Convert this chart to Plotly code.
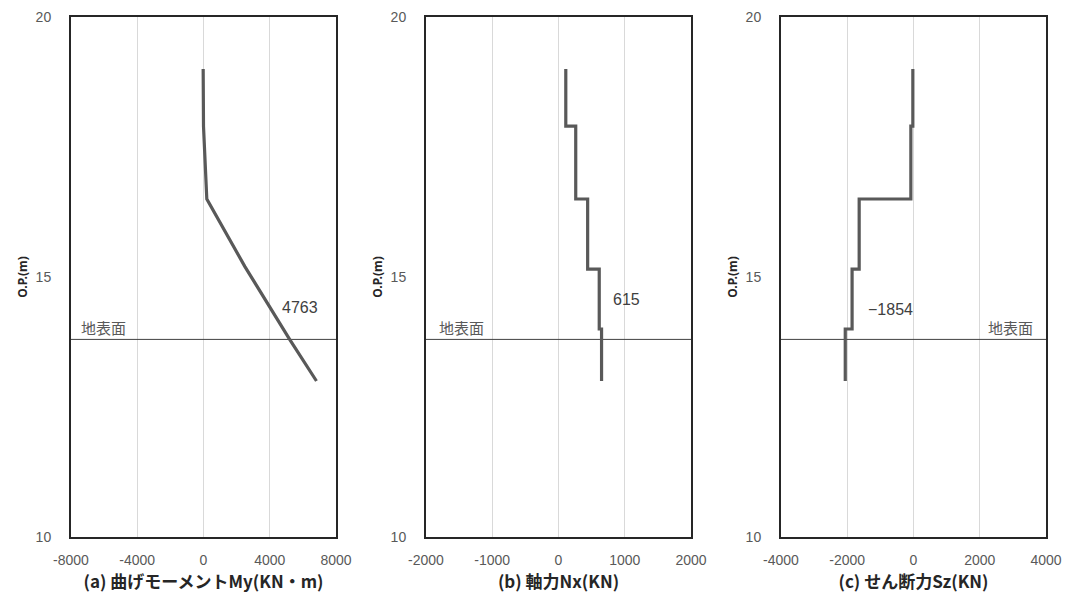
import plotly.graph_objects as go

# ---- data ----
# (a) bending moment My (kN·m) vs elevation O.P.(m)
my_x = [-20, 0, 200, 2500, 5200, 6820]
my_y = [19.0, 17.9, 16.5, 15.2, 13.8, 13.0]

# (b) axial force Nx (kN), stepped profile
nx_x = [110, 110, 260, 260, 440, 440, 615, 615, 650, 650]
nx_y = [19.0, 17.9, 17.9, 16.5, 16.5, 15.15, 15.15, 14.0, 14.0, 13.0]

# (c) shear force Sz (kN), stepped profile
sz_x = [-20, -20, -80, -80, -1640, -1640, -1854, -1854, -2060, -2060]
sz_y = [19.0, 17.9, 17.9, 16.5, 16.5, 15.15, 15.15, 14.0, 14.0, 13.0]

ground_level = 13.8
x_titles = ["(a) 曲げモーメントMy(KN・m)", "(b) 軸力Nx(KN)", "(c) せん断力Sz(KN)"]
x_ranges = [[-8000, 8000], [-2000, 2000], [-4000, 4000]]
x_tickvals = [[-8000, -4000, 0, 4000, 8000],
              [-2000, -1000, 0, 1000, 2000],
              [-4000, -2000, 0, 2000, 4000]]
x_ticktext = [["-8000", "-4000", "0", "4000", "8000"],
              ["-2000", "-1000", "0", "1000", "2000"],
              ["-4000", "-2000", "0", "2000", "4000"]]
y_range = [10, 20]
y_tickvals = [10, 15, 20]
peak_labels = ["4763", "615", "−1854"]
peak_pos = [(5840, 14.42), (1020, 14.56), (-700, 14.38)]
ground_label_pos = [(-6050, 14.03), (-1460, 14.03), (2940, 14.03)]

W, H = 1074, 601
panel_px = [(71, 336), (426, 691), (781, 1046)]
LINE = "#595959"

fig = go.Figure()
series = [(my_x, my_y), (nx_x, nx_y), (sz_x, sz_y)]
for i, (xs, ys) in enumerate(series):
    xa = "x" if i == 0 else f"x{i+1}"
    ya = "y" if i == 0 else f"y{i+1}"
    fig.add_trace(go.Scatter(x=x_ranges[i], y=[ground_level, ground_level], mode="lines",
                             line=dict(color="#404040", width=1), xaxis=xa, yaxis=ya,
                             showlegend=False, hoverinfo="skip"))
    fig.add_trace(go.Scatter(x=xs, y=ys, mode="lines", line=dict(color=LINE, width=3.2),
                             xaxis=xa, yaxis=ya, showlegend=False))

tick_font = dict(family="Liberation Sans, Arial, sans-serif", size=14, color="#595959")
title_font = dict(family="Noto Sans CJK JP, sans-serif", size=17, color="#262626")

layout = dict(
    width=W, height=H, paper_bgcolor="white", plot_bgcolor="white",
    margin=dict(l=0, r=0, t=17, b=64),
)
for i in range(3):
    l, r = panel_px[i]
    suffix = "" if i == 0 else str(i + 1)
    layout["xaxis" + suffix] = dict(
        domain=[l / W, r / W], range=x_ranges[i], tickvals=x_tickvals[i], ticktext=x_ticktext[i],
        showgrid=True, gridcolor="#d9d9d9", gridwidth=1, zeroline=False,
        showline=True, mirror=True, linecolor="#262626", linewidth=2,
        ticks="", tickfont=tick_font, anchor="y" + suffix, automargin=False,
        ticklabelstandoff=9,
        title=dict(text="<b>" + x_titles[i] + "</b>", font=title_font, standoff=5),
    )
    layout["yaxis" + suffix] = dict(
        domain=[0, 1], range=y_range, tickvals=y_tickvals, showgrid=False, zeroline=False,
        showline=True, mirror=True, linecolor="#262626", linewidth=2,
        ticks="", tickfont=tick_font, anchor="x" + suffix, ticklabelstandoff=15,
        automargin=False,
        title=dict(text="<b>O.P.(m)</b>", font=dict(family="Noto Sans, sans-serif", size=12, color="#262626"),
                   standoff=5),
    )
fig.update_layout(**layout)

ann_font = dict(family="Liberation Sans, Arial, sans-serif", size=16, color="#404040")
gl_font = dict(family="Noto Sans CJK JP, sans-serif", size=15, color="#595959")
for i in range(3):
    xa = "x" if i == 0 else f"x{i+1}"
    ya = "y" if i == 0 else f"y{i+1}"
    px, py = peak_pos[i]
    fig.add_annotation(x=px, y=py, xref=xa, yref=ya, text=peak_labels[i], showarrow=False,
                       font=ann_font)
    gx, gy = ground_label_pos[i]
    fig.add_annotation(x=gx, y=gy, xref=xa, yref=ya, text="地表面", showarrow=False, font=gl_font)

fig.write_html("out.html")
